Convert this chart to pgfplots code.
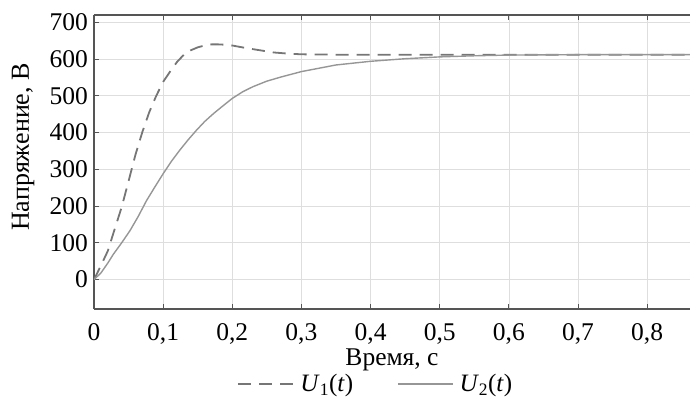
\documentclass[border=0pt]{standalone}
\usepackage{fontspec}
\setmainfont{Liberation Serif}
\usepackage{pgfplots}
\pgfplotsset{compat=1.18}
\usetikzlibrary{calc}
\definecolor{axgray}{RGB}{85,85,85}
\definecolor{uone}{RGB}{118,118,118}
\definecolor{utwo}{RGB}{150,150,150}
\begin{document}
\begin{tikzpicture}
\begin{axis}[
  scale only axis, width=596pt, height=294pt,
  xmin=0, xmax=0.862, ymin=-80, ymax=720,
  axis x line=box, axis y line=left,
  y axis line style={-},
  axis line style={axgray, line width=1.1pt},
  xtick={0,0.1,0.2,0.3,0.4,0.5,0.6,0.7,0.8},
  ytick={0,100,200,300,400,500,600,700},
  tick align=inside, major tick length=5pt,
  tick style={axgray, line width=0.9pt},
  grid=major, major grid style={black!13, line width=0.7pt},
  /pgf/number format/.cd, use comma, fixed, precision=1, assume math mode=true,
  /pgfplots/.cd,
  ticklabel style={font=\fontsize{25.5}{29}\selectfont},
  xticklabel style={anchor=base, yshift=-32pt},
  yticklabel style={anchor=east, inner sep=0pt, xshift=-6pt},
  xlabel={Время, с}, ylabel={Напряжение, В},
  label style={font=\fontsize{26}{30}\selectfont},
  xlabel style={at={(axis description cs:0.5,0)}, anchor=base, yshift=-57pt, inner sep=0pt,
    font=\fontsize{25.5}{29}\selectfont},
  ylabel style={at={(axis description cs:-0.119,0.551)}, anchor=center},
  legend style={at={(axis description cs:0.473,-0.255)}, anchor=center, draw=none, fill=none,
    inner sep=1pt,
    font=\fontsize{25}{28}\selectfont, legend columns=2,
    /tikz/every odd column/.append style={column sep=0pt},
    /tikz/every even column/.append style={column sep=42pt}},
  legend image code/.code={\draw[#1] (0pt,0pt) -- (55pt,0pt); \path (59pt,0pt);},
]
\coordinate (sw) at (rel axis cs:0,0);
\coordinate (ne) at (rel axis cs:1,1);
\addplot[uone, line width=1.8pt, dash pattern=on 13pt off 8pt] coordinates {
(0,0) (0.01,38) (0.02,78) (0.03,138) (0.04,197) (0.05,268) (0.06,340) (0.07,402)
(0.08,456) (0.09,500) (0.10,538) (0.11,566) (0.12,592) (0.13,612) (0.14,624)
(0.15,632) (0.16,637) (0.17,640) (0.18,640) (0.19,639) (0.20,637) (0.22,630)
(0.24,624) (0.26,618) (0.28,615) (0.30,613) (0.35,612) (0.40,612) (0.50,612)
(0.60,612) (0.70,612) (0.80,612) (0.862,612)
};
\addlegendentry{\textit{U}\textsubscript{1}(\textit{t})}
\addplot[utwo, line width=1.4pt] coordinates {
(0,0) (0.01,18) (0.02,45) (0.028,69) (0.04,100) (0.052,133) (0.064,172) (0.076,215)
(0.088,252) (0.10,288) (0.112,322) (0.124,352) (0.136,380) (0.148,406) (0.16,430)
(0.173,452) (0.186,472) (0.20,493) (0.215,511) (0.23,525) (0.25,540) (0.27,551)
(0.30,566) (0.35,584) (0.40,594) (0.45,601) (0.50,606) (0.55,609) (0.60,611)
(0.70,612) (0.80,612) (0.862,612)
};
\addlegendentry{\textit{U}\textsubscript{2}(\textit{t})}
\end{axis}
\pgfresetboundingbox
\useasboundingbox ($(sw)+(-94pt,-90pt)$) rectangle ($(ne)+(0pt,15pt)$);
\end{tikzpicture}
\end{document}
